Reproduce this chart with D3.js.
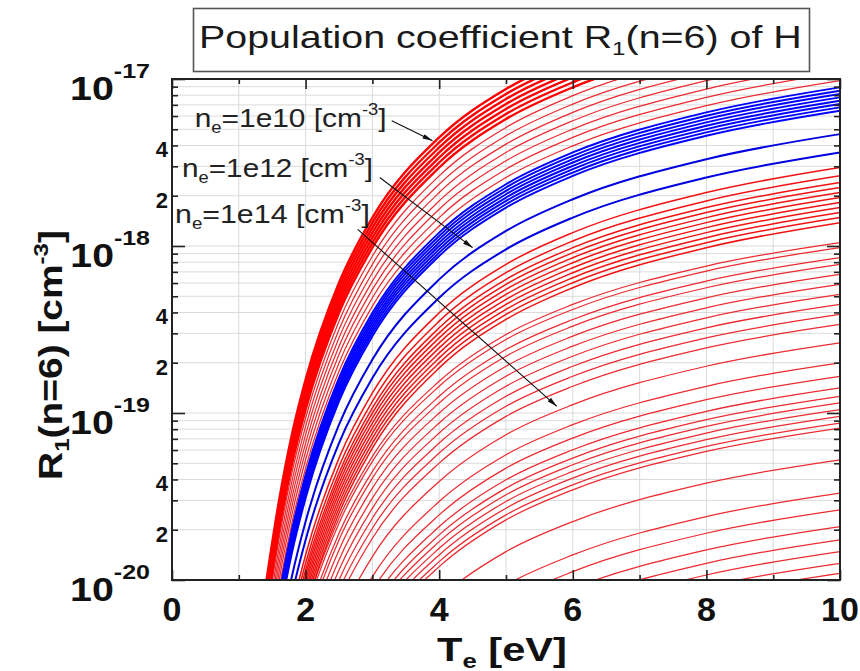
<!DOCTYPE html>
<html>
<head>
<meta charset="utf-8">
<script src="https://cdn.jsdelivr.net/npm/d3@7"></script>
<style>
  body { margin: 0; background: #fff; }
  svg { display: block; font-family: Arial, "Liberation Sans", Helvetica, sans-serif; }
</style>
</head>
<body>
<script>
// electron temperature grid [eV]
const teGrid = [1.4, 1.6, 1.8, 2, 2.5, 3, 4, 5, 6, 8, 10]

// log10 of R1(n=6) [cm^-3] at each Te of teGrid, one row per curve
// ne = 1e10 bundle (saturated red)
const ne1e10Band = [
    [-20.04, -19.53, -19.12, -18.80, -18.22, -17.83, -17.35, -17.06, -16.87, -16.63, -16.48],
    [-20.07, -19.56, -19.15, -18.83, -18.25, -17.86, -17.38, -17.09, -16.90, -16.66, -16.51],
    [-20.10, -19.59, -19.18, -18.86, -18.28, -17.89, -17.41, -17.12, -16.93, -16.69, -16.54],
    [-20.13, -19.62, -19.21, -18.89, -18.31, -17.92, -17.44, -17.15, -16.96, -16.72, -16.57],
    [-20.16, -19.65, -19.24, -18.92, -18.34, -17.95, -17.47, -17.18, -16.99, -16.75, -16.60],
    [-20.19, -19.68, -19.27, -18.95, -18.37, -17.98, -17.50, -17.21, -17.02, -16.78, -16.63],
    [-20.22, -19.71, -19.30, -18.98, -18.40, -18.01, -17.53, -17.24, -17.05, -16.81, -16.66]
]
// thin red curves between 1e10 and 1e12
const redUpper = [
    [-20.27, -19.76, -19.35, -19.03, -18.45, -18.06, -17.58, -17.29, -17.10, -16.86, -16.71],
    [-20.32, -19.81, -19.40, -19.08, -18.50, -18.11, -17.63, -17.34, -17.15, -16.91, -16.76],
    [-20.37, -19.86, -19.45, -19.13, -18.55, -18.16, -17.68, -17.39, -17.20, -16.96, -16.81],
    [-20.42, -19.91, -19.50, -19.18, -18.60, -18.21, -17.73, -17.44, -17.25, -17.01, -16.86],
    [-20.47, -19.96, -19.55, -19.23, -18.65, -18.26, -17.78, -17.49, -17.30, -17.06, -16.91],
    [-20.52, -20.01, -19.60, -19.28, -18.70, -18.31, -17.83, -17.54, -17.35, -17.11, -16.96],
    [-20.57, -20.06, -19.65, -19.33, -18.75, -18.36, -17.88, -17.59, -17.40, -17.16, -17.01]
]
// ne = 1e12 bundle (blue)
const ne1e12Band = [
    [-20.61, -20.10, -19.69, -19.37, -18.79, -18.40, -17.92, -17.63, -17.44, -17.20, -17.05],
    [-20.63, -20.12, -19.71, -19.39, -18.81, -18.42, -17.94, -17.65, -17.46, -17.22, -17.07],
    [-20.65, -20.14, -19.73, -19.41, -18.83, -18.44, -17.96, -17.67, -17.48, -17.24, -17.09],
    [-20.67, -20.16, -19.75, -19.43, -18.85, -18.46, -17.98, -17.69, -17.50, -17.26, -17.11],
    [-20.69, -20.18, -19.77, -19.45, -18.87, -18.48, -18.00, -17.71, -17.52, -17.28, -17.13],
    [-20.71, -20.20, -19.79, -19.47, -18.89, -18.50, -18.02, -17.73, -17.54, -17.30, -17.15],
    [-20.73, -20.22, -19.81, -19.49, -18.91, -18.52, -18.04, -17.75, -17.56, -17.32, -17.17],
    [-20.75, -20.24, -19.83, -19.51, -18.93, -18.54, -18.06, -17.77, -17.58, -17.34, -17.19]
]
const blueLower = [
    [-20.89, -20.38, -19.97, -19.65, -19.07, -18.68, -18.20, -17.91, -17.72, -17.48, -17.33],
    [-21.00, -20.49, -20.08, -19.76, -19.18, -18.79, -18.31, -18.02, -17.83, -17.59, -17.44]
]
// red bundle below the blue curves
const redMid = [
    [-21.09, -20.58, -20.17, -19.85, -19.27, -18.88, -18.40, -18.11, -17.92, -17.68, -17.53],
    [-21.14, -20.63, -20.22, -19.90, -19.32, -18.93, -18.45, -18.16, -17.97, -17.73, -17.58],
    [-21.18, -20.67, -20.26, -19.94, -19.36, -18.97, -18.49, -18.20, -18.01, -17.77, -17.62],
    [-21.21, -20.70, -20.29, -19.97, -19.39, -19.00, -18.52, -18.23, -18.04, -17.80, -17.65],
    [-21.24, -20.73, -20.32, -20.00, -19.42, -19.03, -18.55, -18.26, -18.07, -17.83, -17.68],
    [-21.27, -20.76, -20.35, -20.03, -19.45, -19.06, -18.58, -18.29, -18.10, -17.86, -17.71],
    [-21.30, -20.79, -20.38, -20.06, -19.48, -19.09, -18.61, -18.32, -18.13, -17.89, -17.74],
    [-21.33, -20.82, -20.41, -20.09, -19.51, -19.12, -18.64, -18.35, -18.16, -17.92, -17.77],
    [-21.36, -20.85, -20.44, -20.12, -19.54, -19.15, -18.67, -18.38, -18.19, -17.95, -17.80],
    [-21.39, -20.88, -20.47, -20.15, -19.57, -19.18, -18.70, -18.41, -18.22, -17.98, -17.83],
    [-21.42, -20.91, -20.50, -20.18, -19.60, -19.21, -18.73, -18.44, -18.25, -18.01, -17.86]
]
const redLowA = [
    [-21.36, -20.87, -20.49, -20.18, -19.63, -19.26, -18.81, -18.53, -18.35, -18.12, -17.98],
    [-21.39, -20.90, -20.52, -20.21, -19.66, -19.29, -18.84, -18.56, -18.38, -18.15, -18.01],
    [-21.45, -20.96, -20.58, -20.27, -19.72, -19.35, -18.90, -18.62, -18.44, -18.21, -18.07],
    [-21.49, -21.00, -20.62, -20.31, -19.76, -19.39, -18.94, -18.66, -18.48, -18.25, -18.11],
    [-21.55, -21.06, -20.68, -20.37, -19.82, -19.45, -19.00, -18.72, -18.54, -18.31, -18.17],
    [-21.61, -21.12, -20.74, -20.43, -19.88, -19.51, -19.06, -18.78, -18.60, -18.37, -18.23],
    [-21.67, -21.18, -20.80, -20.49, -19.94, -19.57, -19.12, -18.84, -18.66, -18.43, -18.29],
    [-21.73, -21.24, -20.86, -20.55, -20.00, -19.63, -19.18, -18.90, -18.72, -18.49, -18.35],
    [-21.79, -21.30, -20.92, -20.61, -20.06, -19.69, -19.24, -18.96, -18.78, -18.55, -18.41],
    [-21.85, -21.36, -20.98, -20.67, -20.12, -19.75, -19.30, -19.02, -18.84, -18.61, -18.47]
]
const redLowB = [
    [-21.96, -21.47, -21.09, -20.78, -20.23, -19.86, -19.41, -19.13, -18.95, -18.72, -18.58],
    [-22.08, -21.59, -21.21, -20.90, -20.35, -19.98, -19.53, -19.25, -19.07, -18.84, -18.70],
    [-22.16, -21.67, -21.29, -20.98, -20.43, -20.06, -19.61, -19.33, -19.15, -18.92, -18.78],
    [-22.23, -21.74, -21.36, -21.05, -20.50, -20.13, -19.68, -19.40, -19.22, -18.99, -18.85],
    [-22.28, -21.79, -21.41, -21.10, -20.55, -20.18, -19.73, -19.45, -19.27, -19.04, -18.90],
    [-22.32, -21.83, -21.45, -21.14, -20.59, -20.22, -19.77, -19.49, -19.31, -19.08, -18.94],
    [-22.36, -21.87, -21.49, -21.18, -20.63, -20.26, -19.81, -19.53, -19.35, -19.12, -18.98],
    [-22.40, -21.91, -21.53, -21.22, -20.67, -20.30, -19.85, -19.57, -19.39, -19.16, -19.02],
    [-22.44, -21.95, -21.57, -21.26, -20.71, -20.34, -19.89, -19.61, -19.43, -19.20, -19.06],
    [-22.47, -21.98, -21.60, -21.29, -20.74, -20.37, -19.92, -19.64, -19.46, -19.23, -19.09]
]
const redBottom = [
    [null, null, null, null, null, -20.56, -20.11, -19.83, -19.65, -19.42, -19.28],
    [null, null, null, null, null, -20.76, -20.31, -20.03, -19.85, -19.62, -19.48],
    [null, null, null, null, null, -20.86, -20.41, -20.13, -19.95, -19.72, -19.58],
    [null, null, null, null, null, -20.96, -20.51, -20.23, -20.05, -19.82, -19.68],
    [null, null, null, null, null, -21.04, -20.59, -20.31, -20.13, -19.90, -19.76],
    [null, null, null, null, null, -21.11, -20.66, -20.38, -20.20, -19.97, -19.83],
    [null, null, null, null, null, -21.18, -20.73, -20.45, -20.27, -20.04, -19.90],
    [null, null, null, null, null, -21.24, -20.79, -20.51, -20.33, -20.10, -19.96]
]

const xTicks = [0, 2, 4, 6, 8, 10]
const yDecades = [-20, -19, -18, -17]
const yMinorLabels = [2, 4]
const densityLabels = ['1e10', '1e12', '1e14']

const width = 860, height = 671
const plot = {left: 172, right: 840, top: 79, bottom: 580}

const svg = d3.select('body').append('svg').attr('width', width).attr('height', height)

const x = d3.scaleLinear().domain([0, 10]).range([plot.left, plot.right])
const y = d3.scaleLog().domain([1e-20, 1e-17]).range([plot.bottom, plot.top])

// minor tick values of the log axis
const minorVals = []
yDecades.slice(0, 3).forEach(d => d3.range(2, 10).forEach(k => minorVals.push(k * Math.pow(10, d))))
const majorVals = yDecades.map(d => Math.pow(10, d))

// grid
const grid = svg.append('g').attr('stroke', '#d6d6d6').attr('stroke-width', 0.9)
grid.selectAll('line.v').data(d3.range(1, 10)).join('line')
    .attr('x1', d => x(d)).attr('x2', d => x(d)).attr('y1', plot.top).attr('y2', plot.bottom)
grid.selectAll('line.h').data(minorVals.concat(majorVals)).join('line')
    .attr('x1', plot.left).attr('x2', plot.right).attr('y1', d => y(d)).attr('y2', d => y(d))

// curves
svg.append('clipPath').attr('id', 'clip').append('rect')
    .attr('x', plot.left).attr('y', plot.top)
    .attr('width', plot.right - plot.left).attr('height', plot.bottom - plot.top)

const line = d3.line()
    .defined(d => d[1] != null)
    .x(d => x(d[0]))
    .y(d => y(Math.pow(10, d[1])))
    .curve(d3.curveMonotoneX)

const groups = [
    {rows: redBottom, color: '#ec2a30', w: 1.25},
    {rows: redLowB, color: '#ec2a30', w: 1.25},
    {rows: redLowA, color: '#ec2a30', w: 1.25},
    {rows: redMid, color: '#f21212', w: 1.5},
    {rows: redUpper, color: '#ec2a30', w: 1.25},
    {rows: ne1e10Band, color: '#ff0000', w: 2.4},
    {rows: ne1e12Band, color: '#0000ff', w: 1.9},
    {rows: blueLower, color: '#0000e0', w: 2.0}
]
const curves = svg.append('g').attr('clip-path', 'url(#clip)').attr('fill', 'none')
groups.forEach(g => {
    curves.append('g').selectAll('path').data(g.rows).join('path')
        .attr('d', row => line(row.map((v, i) => [teGrid[i], v])))
        .attr('stroke', g.color)
        .attr('stroke-width', g.w)
})

// ticks (inside the frame)
const axisG = svg.append('g').attr('color', '#222')
axisG.append('g').attr('transform', `translate(${plot.left},0)`)
    .call(d3.axisLeft(y).tickValues(minorVals).tickSize(-6).tickFormat(''))
axisG.append('g').attr('transform', `translate(${plot.left},0)`)
    .call(d3.axisLeft(y).tickValues(majorVals).tickSize(-13).tickFormat(''))
axisG.append('g').attr('transform', `translate(${plot.right},0)`)
    .call(d3.axisRight(y).tickValues(minorVals).tickSize(-6).tickFormat(''))
axisG.append('g').attr('transform', `translate(${plot.right},0)`)
    .call(d3.axisRight(y).tickValues(majorVals).tickSize(-13).tickFormat(''))
axisG.append('g').attr('transform', `translate(0,${plot.bottom})`)
    .call(d3.axisBottom(x).tickValues(xTicks).tickSize(-10).tickFormat(''))
axisG.append('g').attr('transform', `translate(0,${plot.bottom})`)
    .call(d3.axisBottom(x).tickValues([1, 3, 5, 7, 9]).tickSize(-5).tickFormat(''))
axisG.append('g').attr('transform', `translate(0,${plot.top})`)
    .call(d3.axisTop(x).tickValues(xTicks).tickSize(-10).tickFormat(''))
axisG.append('g').attr('transform', `translate(0,${plot.top})`)
    .call(d3.axisTop(x).tickValues([1, 3, 5, 7, 9]).tickSize(-5).tickFormat(''))
axisG.selectAll('.domain').remove()
axisG.selectAll('.tick line').attr('stroke-width', 1.6)

svg.append('rect')
    .attr('x', plot.left).attr('y', plot.top)
    .attr('width', plot.right - plot.left).attr('height', plot.bottom - plot.top)
    .attr('fill', 'none').attr('stroke', '#222').attr('stroke-width', 2)

// stretch a text horizontally so that it spans w pixels
function fit(t, w, anchor) {
    const bb = t.node().getBBox()
    const s = w / bb.width
    const x0 = anchor === 'end' ? bb.x + bb.width : anchor === 'middle' ? bb.x + bb.width / 2 : bb.x
    t.attr('transform', `translate(${x0},0) scale(${s},1) translate(${-x0},0)`)
}

// y tick labels
yDecades.forEach(d => {
    const t = svg.append('text').attr('x', 150).attr('y', y(Math.pow(10, d)) + 21)
        .attr('text-anchor', 'end').attr('font-weight', 'bold').attr('fill', '#111')
    t.append('tspan').attr('font-size', 33).text('10')
    t.append('tspan').attr('font-size', 21).attr('dy', -22).text(d)
    fit(t, 80, 'end')
})
yDecades.slice(0, 3).forEach(d => {
    yMinorLabels.forEach(k => {
        svg.append('text').attr('x', 168).attr('y', y(k * Math.pow(10, d)) + 12)
            .attr('text-anchor', 'end').attr('font-weight', 'bold').attr('font-size', 22)
            .attr('fill', '#111').text(k)
    })
})

// x tick labels
xTicks.forEach(v => {
    svg.append('text').attr('x', x(v)).attr('y', 621)
        .attr('text-anchor', 'middle').attr('font-weight', 'bold').attr('font-size', 34)
        .attr('fill', '#111').text(v)
})

// axis titles
const xt = svg.append('text').attr('x', 437).attr('y', 661)
    .attr('font-weight', 'bold').attr('font-size', 34).attr('fill', '#111')
xt.append('tspan').text('T')
xt.append('tspan').attr('font-size', 21).attr('dy', 7).text('e')
xt.append('tspan').attr('dy', -7).text(' [eV]')
fit(xt, 130, 'start')

const yt = svg.append('g').attr('transform', 'translate(62,355) rotate(-90)')
    .append('text').attr('text-anchor', 'middle')
    .attr('font-weight', 'bold').attr('font-size', 34).attr('fill', '#111')
yt.append('tspan').text('R')
yt.append('tspan').attr('font-size', 21).attr('dy', 7).text('1')
yt.append('tspan').attr('dy', -7).text('(n=6) [cm')
yt.append('tspan').attr('font-size', 21).attr('dy', -14).text('-3')
yt.append('tspan').attr('dy', 14).text(']')
fit(yt, 250, 'middle')

// title box
svg.append('rect').attr('x', 193.5).attr('y', 8.5).attr('width', 616).attr('height', 63)
    .attr('fill', '#fff').attr('stroke', '#555').attr('stroke-width', 1.6)
const title = svg.append('text').attr('x', 199).attr('y', 48)
    .attr('font-size', 31).attr('fill', '#1a1a1a')
title.append('tspan').text('Population coefficient R')
title.append('tspan').attr('font-size', 19).attr('dy', 7).text('1')
title.append('tspan').attr('dy', -7).text('(n=6) of H')
fit(title, 603, 'start')

// density annotations with arrows (positions in Te / log10 R)
const labelAt = [[0.34, -17.29], [0.15, -17.585], [0.045, -17.86]]
const labelWidth = [192, 191, 195]
const arrowFrom = [[3.29, -17.25], [3.11, -17.59], [2.78, -17.90]]
const arrowTo = [[3.90, -17.37], [4.50, -18.01], [5.76, -18.96]]

svg.append('defs').append('marker').attr('id', 'head')
    .attr('viewBox', '0 0 12 6').attr('refX', 12).attr('refY', 3)
    .attr('markerWidth', 12).attr('markerHeight', 5).attr('markerUnits', 'userSpaceOnUse')
    .attr('orient', 'auto')
    .append('path').attr('d', 'M0,0 L12,3 L0,6 Z').attr('fill', '#111')

densityLabels.forEach((lab, i) => {
    const t = svg.append('text').attr('x', x(labelAt[i][0])).attr('y', y(Math.pow(10, labelAt[i][1])))
        .attr('font-size', 26).attr('fill', '#222')
    t.append('tspan').text('n')
    t.append('tspan').attr('font-size', 16).attr('dy', 6).text('e')
    t.append('tspan').attr('dy', -6).text('=' + lab + ' [cm')
    t.append('tspan').attr('font-size', 16).attr('dy', -12).text('-3')
    t.append('tspan').attr('dy', 12).text(']')
    fit(t, labelWidth[i], 'start')
    svg.append('line')
        .attr('x1', x(arrowFrom[i][0])).attr('y1', y(Math.pow(10, arrowFrom[i][1])))
        .attr('x2', x(arrowTo[i][0])).attr('y2', y(Math.pow(10, arrowTo[i][1])))
        .attr('stroke', '#111').attr('stroke-width', 1.1).attr('marker-end', 'url(#head)')
})
</script>
</body>
</html>
